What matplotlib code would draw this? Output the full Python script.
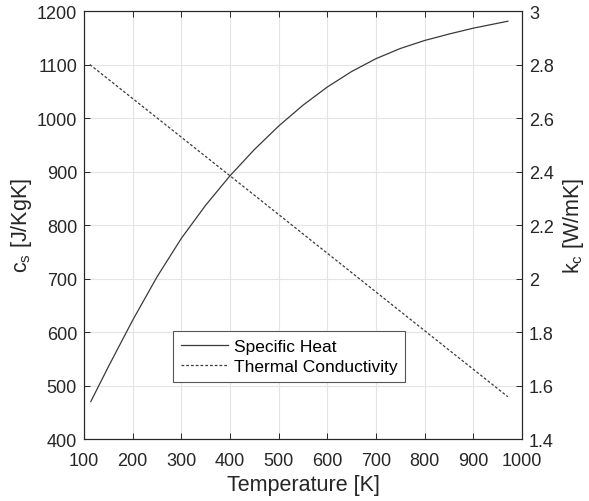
import matplotlib.pyplot as plt
import numpy as np

plt.rcParams['font.family'] = ['Liberation Sans', 'DejaVu Sans']
plt.rcParams['mathtext.default'] = 'regular'

# specific heat
T_cs = [114, 150, 200, 250, 300, 350, 400, 450, 500, 550, 600, 650, 700, 750, 800, 850, 900, 971]
cs = [470, 535, 622, 703, 775, 837, 892, 941, 985, 1024, 1058, 1087, 1111, 1130, 1145, 1157, 1168, 1181]

# thermal conductivity (straight line)
T_kc = [112, 400, 800, 971]
kc = [2.80, 2.384, 1.805, 1.558]

xticks = [100, 200, 300, 400, 500, 600, 700, 800, 900, 1000]
yticks_l = [400, 500, 600, 700, 800, 900, 1000, 1100, 1200]
yticks_r = [1.4, 1.6, 1.8, 2.0, 2.2, 2.4, 2.6, 2.8, 3.0]
yticklabels_r = ['1.4', '1.6', '1.8', '2', '2.2', '2.4', '2.6', '2.8', '3']

fig = plt.figure(figsize=(5.89, 5.02), dpi=100)
ax = fig.add_axes([0.1426, 0.1235, 0.7436, 0.8525])
ax2 = ax.twinx()

l1, = ax.plot(T_cs, cs, color='#3a3a3a', lw=0.9, label='Specific Heat')
l2, = ax2.plot(T_kc, kc, color='#3a3a3a', lw=0.9, dashes=(2.2, 1.6), label='Thermal Conductivity')

ax.set_xlim(100, 1000)
ax.set_ylim(400, 1200)
ax2.set_ylim(1.4, 3.0)
ax.set_xticks(xticks)
ax.set_yticks(yticks_l)
ax2.set_yticks(yticks_r)
ax2.set_yticklabels(yticklabels_r)

ax.grid(True, color='#e4e4e4', lw=0.8)
ax.set_axisbelow(True)

for a in (ax, ax2):
    for s in a.spines.values():
        s.set_color('#262626')
        s.set_linewidth(0.8)
ax.tick_params(direction='in', length=4, width=0.7, colors='#262626', labelsize=13, top=True, pad=5)
ax.tick_params(axis='x', pad=9)
ax2.tick_params(direction='in', length=4, width=0.7, colors='#262626', labelsize=13, pad=5)

ax.set_xlabel('Temperature [K]', fontsize=15.5, color='#262626', labelpad=4)
ax.set_ylabel('c$_s$ [J/KgK]', fontsize=15.5, color='#262626', labelpad=2)
ax2.set_ylabel('k$_c$ [W/mK]', fontsize=15.5, color='#262626', labelpad=5)

leg = ax2.legend(handles=[l1, l2], loc='lower left', bbox_to_anchor=(0.203, 0.133),
                 borderaxespad=0, fontsize=12.5, fancybox=False, framealpha=1,
                 edgecolor='#555555', handlelength=2.7, borderpad=0.45, labelspacing=0.3,
                 handletextpad=0.35)
leg.get_frame().set_linewidth(0.8)

fig.savefig('out.png', dpi=100)
